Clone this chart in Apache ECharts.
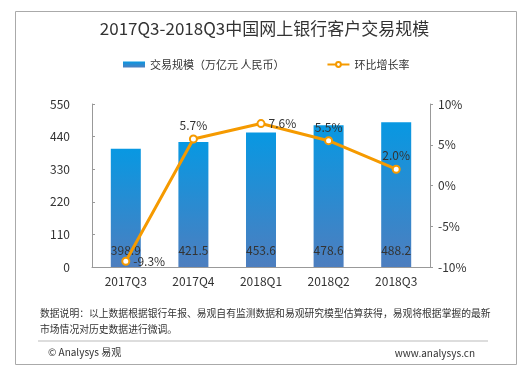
<!DOCTYPE html>
<html><head><meta charset="utf-8">
<script src="https://cdn.jsdelivr.net/npm/echarts@6/dist/echarts.min.js"></script>
<style>html,body{margin:0;padding:0;background:#fff}#c{width:529px;height:371px}</style>
</head><body><div id="c"></div>
<script>
const categories = ['2017Q3','2017Q4','2018Q1','2018Q2','2018Q3'];
const volume = [398.9, 421.5, 453.6, 478.6, 488.2];
const growth = [-9.3, 5.7, 7.6, 5.5, 2.0];
const leftTicks = {min:0, max:550, interval:110};
const rightTicks = {min:-10, max:10, interval:5};
const titleText = '2017Q3-2018Q3中国网上银行客户交易规模';
const barName = '交易规模（万亿元 人民币）';
const lineName = '环比增长率';
const note1 = '数据说明：以上数据根据银行年报、易观自有监测数据和易观研究模型估算获得，易观将根据掌握的最新';
const note2 = '市场情况对历史数据进行微调。';

const font = '"Microsoft YaHei","Noto Sans CJK SC",sans-serif';
const chart = echarts.init(document.getElementById('c'));
const lineLabelPos = ['right','top','right','top','top'];
chart.setOption({
  animation:false,
  textStyle:{fontFamily:font},
  title:{text:titleText,left:'center',top:15,textStyle:{fontSize:17,fontWeight:'normal',color:'#333',fontFamily:font}},
  legend:{top:54,left:118,itemGap:42,itemWidth:22,itemHeight:6,textStyle:{fontSize:11,color:'#333'},
    data:[{name:barName,icon:'rect'},{name:lineName}]},
  grid:{left:92,right:99,top:104,bottom:104},
  xAxis:{type:'category',data:categories,
    axisLine:{lineStyle:{color:'#999'}},axisTick:{show:false},
    axisLabel:{color:'#333',fontSize:12,margin:8}},
  yAxis:[
    {type:'value',min:leftTicks.min,max:leftTicks.max,interval:leftTicks.interval,
     splitLine:{show:false},axisLine:{show:true,lineStyle:{color:'#999'}},
     axisTick:{show:true,inside:true,length:3,lineStyle:{color:'#999'}},
     axisLabel:{color:'#333',fontSize:12,margin:22}},
    {type:'value',min:rightTicks.min,max:rightTicks.max,interval:rightTicks.interval,
     splitLine:{show:false},axisLine:{show:true,lineStyle:{color:'#999'}},
     axisTick:{show:true,length:3,lineStyle:{color:'#999'}},
     axisLabel:{color:'#333',fontSize:12,margin:8,formatter:'{value}%'}}
  ],
  series:[
    {name:barName,type:'bar',data:volume,barWidth:30,
     itemStyle:{color:new echarts.graphic.LinearGradient(0,0,0,1,[{offset:0,color:'#0898e2'},{offset:1,color:'#4d7ebf'}])},
     label:{show:true,position:'insideBottom',distance:11,color:'#333',fontSize:12}},
    {name:lineName,type:'line',yAxisIndex:1,data:growth.map((v,i)=>({value:v,label:{position:lineLabelPos[i]}})),
     symbol:'circle',symbolSize:7,
     lineStyle:{color:'#f59a00',width:3},
     itemStyle:{color:'#fff',borderColor:'#f59a00',borderWidth:2},
     label:{show:true,color:'#333',fontSize:12,distance:3,formatter:p=>p.value.toFixed(1)+'%'}}
  ],
  graphic:[
    {type:'rect',left:13,top:9,shape:{width:501,height:353},style:{fill:'none',stroke:'#aaa',lineWidth:1},silent:true},
    {type:'text',left:40,top:308,style:{text:note1,fontSize:9.8,fill:'#333',fontFamily:font}},
    {type:'text',left:40,top:324,style:{text:note2,fontSize:9.8,fill:'#333',fontFamily:font}},
    {type:'line',shape:{x1:38,y1:341,x2:488,y2:341},style:{stroke:'#bbb',lineWidth:1}},
    {type:'text',left:48,top:347,style:{text:'© Analysys 易观',fontSize:10,fill:'#333',fontFamily:font}},
    {type:'text',right:54,top:348,style:{text:'www.analysys.cn',fontSize:10,fill:'#333',fontFamily:font}}
  ]
});
</script></body></html>
